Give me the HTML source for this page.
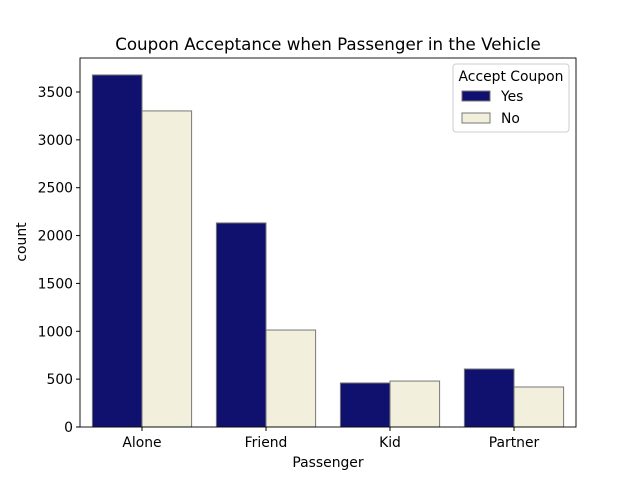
<!DOCTYPE html>
<html><head><meta charset="utf-8"><style>body{margin:0;background:#fff}svg{display:block;font-family:"DejaVu Sans","Liberation Sans",sans-serif}</style></head>
<body>
<svg id="chart" width="640" height="480">
<rect x="0" y="0" width="640" height="480" fill="#fff"/>
<text x="328" y="50" font-size="16.7" text-anchor="middle">Coupon Acceptance when Passenger in the Vehicle</text>
<g id="bars"></g>
<g id="axes"></g>
<text x="328" y="467" font-size="13.9" text-anchor="middle">Passenger</text>
<text x="26" y="242" font-size="13.9" text-anchor="middle" transform="rotate(-90 26 242)">count</text>
<g>
<rect x="453" y="64" width="116" height="68" fill="#fff" stroke="#ccc" rx="3"/>
<text x="511" y="81" font-size="13.9" text-anchor="middle">Accept Coupon</text>
<rect x="462" y="91" width="28" height="10" fill="#10106f" stroke="#777"/>
<text x="501" y="101" font-size="13.9">Yes</text>
<rect x="462" y="113" width="28" height="10" fill="#f2f0dc" stroke="#777"/>
<text x="501" y="123" font-size="13.9">No</text>
</g>
</svg>
<script>
const categories = ["Alone","Friend","Kid","Partner"];
const yesValues = [3678, 2132, 460, 606];
const noValues = [3302, 1013, 480, 418];
const yTicks = [0,500,1000,1500,2000,2500,3000,3500];
const NS="http://www.w3.org/2000/svg";
const L=80,R=576,T=58,B=427;
const yMax=3855;
const y=v=>B-v*(B-T)/yMax;
const step=(R-L)/categories.length;
const xc=i=>L+step*(i+0.5);
const bw=step*0.4;
function mk(tag,attrs,parent){const e=document.createElementNS(NS,tag);for(const k in attrs)e.setAttribute(k,attrs[k]);parent.appendChild(e);return e;}
const bars=document.getElementById('bars'),axes=document.getElementById('axes');
categories.forEach((c,i)=>{
  const a=mk('rect',{x:xc(i)-bw,y:y(yesValues[i]),width:bw,height:B-y(yesValues[i]),fill:'#10106f',stroke:'#777'},bars);
  
  
  const b=mk('rect',{x:xc(i),y:y(noValues[i]),width:bw,height:B-y(noValues[i]),fill:'#f2f0dc',stroke:'#777'},bars);
  
  
  mk('line',{x1:xc(i),x2:xc(i),y1:B,y2:B+4,stroke:'#000'},axes);
  const t=mk('text',{x:xc(i),y:B+20,'font-size':13.9,'text-anchor':'middle'},axes);
  t.textContent=c;
  
  
});
yTicks.forEach(v=>{
  mk('line',{x1:L-4,x2:L,y1:y(v),y2:y(v),stroke:'#000'},axes);
  const t=mk('text',{x:L-7,y:y(v)+5,'font-size':13.9,'text-anchor':'end'},axes);
  t.textContent=v;
  
  
});
mk('rect',{x:L,y:T,width:R-L,height:B-T,fill:'none',stroke:'#000','stroke-width':0.9},axes);
</script>
</body></html>
